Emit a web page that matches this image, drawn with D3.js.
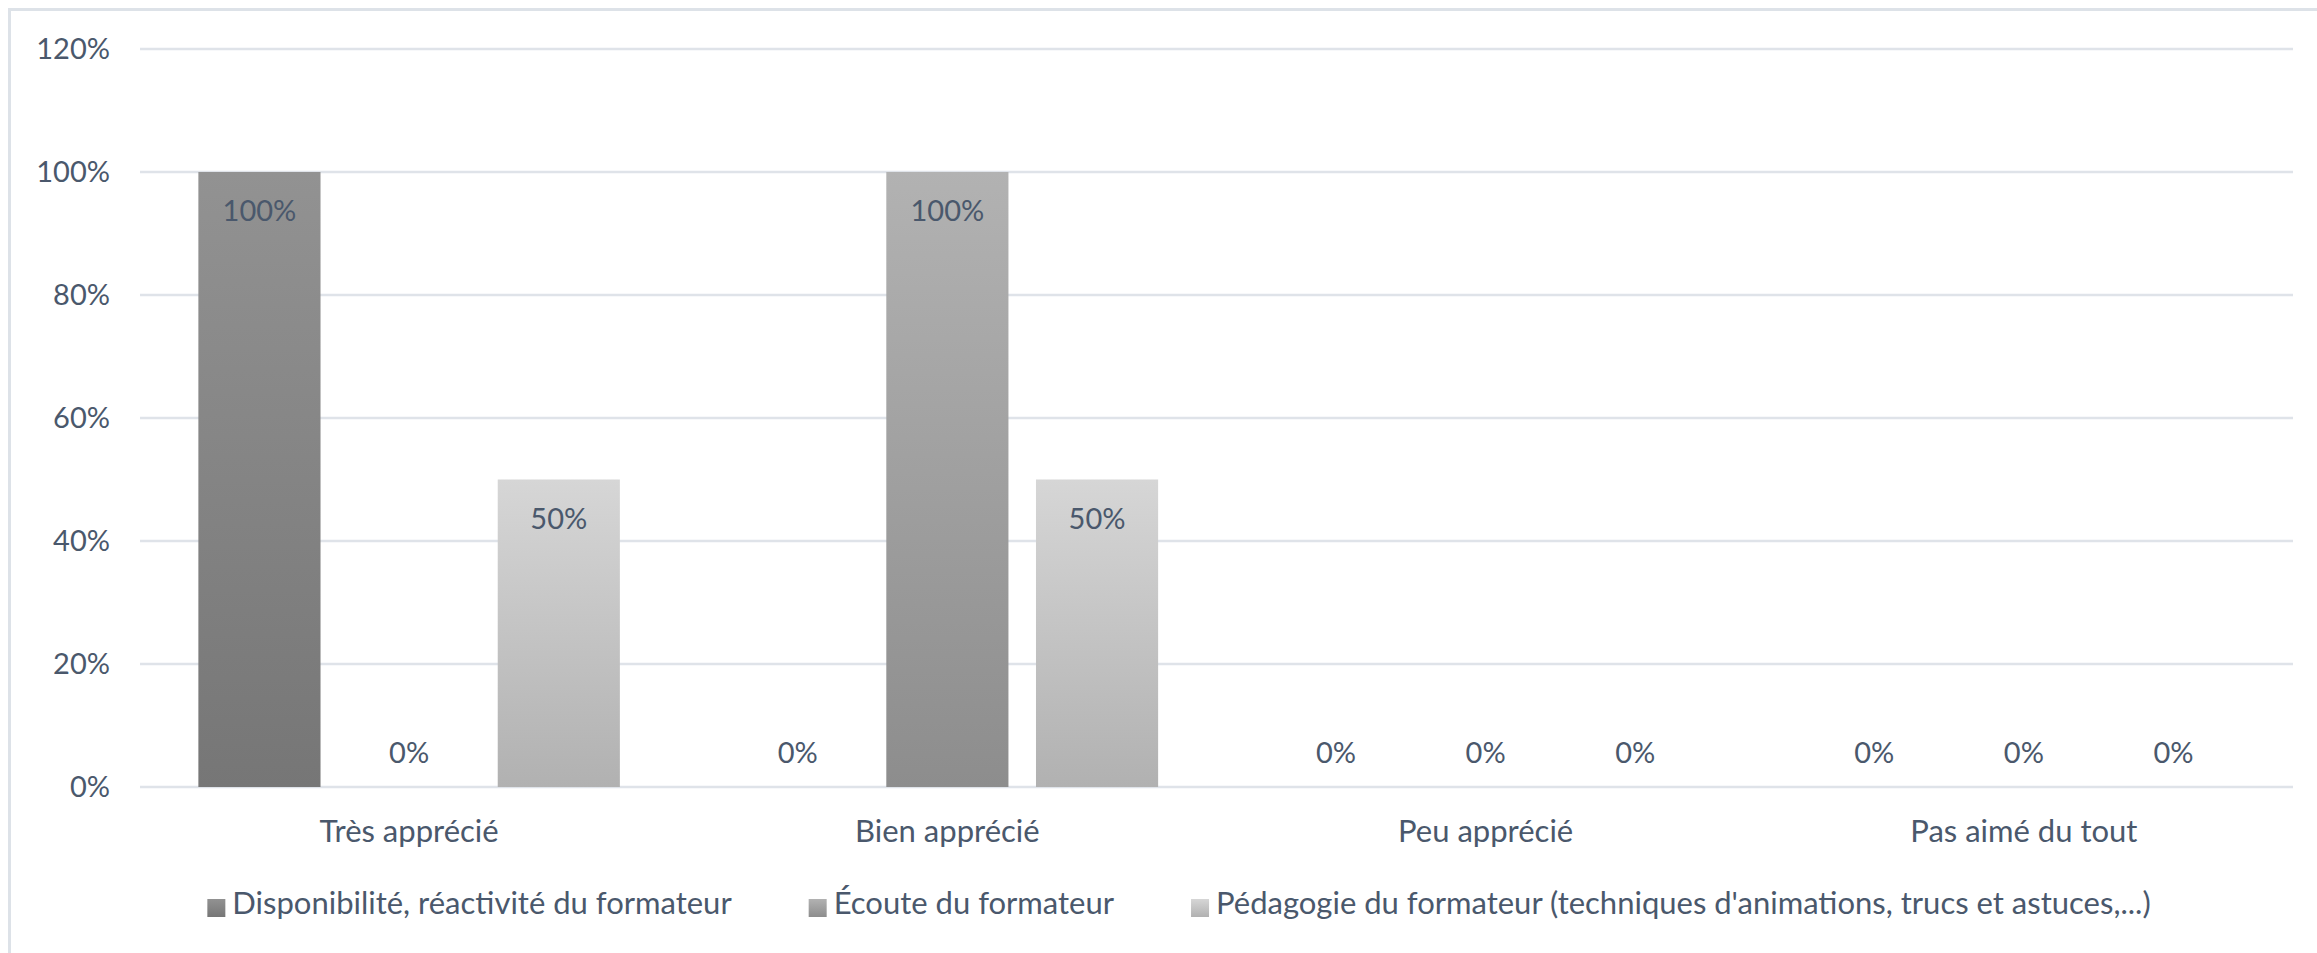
<!DOCTYPE html>
<html>
<head>
<meta charset="utf-8">
<script src="https://cdn.jsdelivr.net/npm/d3@7"></script>
<style>
  body { margin: 0; background: #fff; }
  text { font-family: Lato, "Open Sans", sans-serif; fill: #4a586c; }
</style>
</head>
<body>
<div id="chart"></div>
<script>
'use strict'

// categories and series
let categories = ["Très apprécié", "Bien apprécié", "Peu apprécié", "Pas aimé du tout"]
let seriesNames = [
  "Disponibilité, réactivité du formateur",
  "Écoute du formateur",
  "Pédagogie du formateur (techniques d'animations, trucs et astuces,...)"
]
let dispo = [1.0, 0, 0, 0]
let ecoute = [0, 1.0, 0, 0]
let pedago = [0.5, 0.5, 0, 0]
let yTicks = [0, 0.2, 0.4, 0.6, 0.8, 1.0, 1.2]

/*
  layout
*/
let width = 2317
let height = 953
let plot = { left: 140, right: 2293, top: 49, bottom: 787 }
let numSize = 29
let labelSize = 31
let gradStops = [
  ["#929292", "#767676"],
  ["#b2b2b2", "#8d8d8d"],
  ["#d6d6d6", "#b1b1b1"]
]

let allSeries = [dispo, ecoute, pedago]
let rows = []
categories.forEach(function (c, ci) {
  allSeries.forEach(function (s, si) {
    rows.push({ cat: c, si: si, value: s[ci] })
  })
})

let svg = d3.select("#chart").append("svg")
  .attr("width", width)
  .attr("height", height)

let defs = svg.append("defs")
gradStops.forEach(function (g, i) {
  let lg = defs.append("linearGradient")
    .attr("id", "grad" + i)
    .attr("x1", 0).attr("y1", 0).attr("x2", 0).attr("y2", 1)
  lg.append("stop").attr("offset", "0%").attr("stop-color", g[0])
  lg.append("stop").attr("offset", "100%").attr("stop-color", g[1])
})

// chart frame
svg.append("rect")
  .attr("x", 9.5).attr("y", 9.5)
  .attr("width", 2400).attr("height", 1000)
  .attr("fill", "none")
  .attr("stroke", "#dde2e8")
  .attr("stroke-width", 3)

let x0 = d3.scaleBand()
  .domain(categories)
  .range([plot.left, plot.right])

let x1 = d3.scaleBand()
  .domain(d3.range(seriesNames.length))
  .range([0, x0.bandwidth()])
  .paddingInner(0.184)
  .paddingOuter(0.39)

let y = d3.scaleLinear()
  .domain([0, 1.2])
  .range([plot.bottom, plot.top])

// gridlines
svg.append("g")
  .selectAll("line")
  .data(yTicks)
  .enter()
  .append("line")
  .attr("x1", plot.left)
  .attr("x2", plot.right)
  .attr("y1", d => y(d))
  .attr("y2", d => y(d))
  .attr("stroke", "#dfe3e9")
  .attr("stroke-width", 2.5)

// y axis labels
let yAxis = d3.axisLeft(y)
  .tickValues(yTicks)
  .tickFormat(d3.format(".0%"))
  .tickSize(0)
  .tickPadding(30)

let gy = svg.append("g")
  .attr("transform", "translate(" + plot.left + ",0)")
  .call(yAxis)
gy.select(".domain").remove()
gy.selectAll("text")
  .style("font-size", numSize + "px")
  .attr("fill", null)
gy.attr("font-family", null)

// bars
svg.append("g")
  .selectAll("rect")
  .data(rows.filter(d => d.value > 0))
  .enter()
  .append("rect")
  .attr("x", d => x0(d.cat) + x1(d.si))
  .attr("y", d => y(d.value))
  .attr("width", x1.bandwidth())
  .attr("height", d => y(0) - y(d.value))
  .attr("fill", d => "url(#grad" + d.si + ")")

// data labels
svg.append("g")
  .selectAll("text")
  .data(rows)
  .enter()
  .append("text")
  .attr("x", d => x0(d.cat) + x1(d.si) + x1.bandwidth() / 2)
  .attr("y", d => d.value > 0 ? y(d.value) + 49 : y(0) - 24)
  .attr("text-anchor", "middle")
  .style("font-size", numSize + "px")
  .text(d => d3.format(".0%")(d.value))

// category labels
svg.append("g")
  .selectAll("text")
  .data(categories)
  .enter()
  .append("text")
  .attr("x", d => x0(d) + x0.bandwidth() / 2)
  .attr("y", 842)
  .attr("text-anchor", "middle")
  .style("font-size", labelSize + "px")
  .text(d => d)

// legend
let legendRectSize = 18
let legendSpacing = 7
let legendGap = 77
let legendCenter = 1179
let legendY = 914

let items = svg.append("g")
  .selectAll(".legend")
  .data(seriesNames)
  .enter()
  .append("g")
  .attr("class", "legend")

items.append("rect")
  .attr("width", legendRectSize)
  .attr("height", legendRectSize)
  .attr("y", legendY - 15)
  .attr("fill", (d, i) => "url(#grad" + i + ")")

items.append("text")
  .attr("x", legendRectSize + legendSpacing)
  .attr("y", legendY)
  .style("font-size", labelSize + "px")
  .text(d => d)

let widths = []
items.selectAll("text").each(function () { widths.push(this.getComputedTextLength()) })
let total = d3.sum(widths) + seriesNames.length * (legendRectSize + legendSpacing) + (seriesNames.length - 1) * legendGap
let pos = legendCenter - total / 2
items.attr("transform", function (d, i) {
  let t = "translate(" + pos + ",0)"
  pos += legendRectSize + legendSpacing + widths[i] + legendGap
  return t
})
</script>
</body>
</html>
